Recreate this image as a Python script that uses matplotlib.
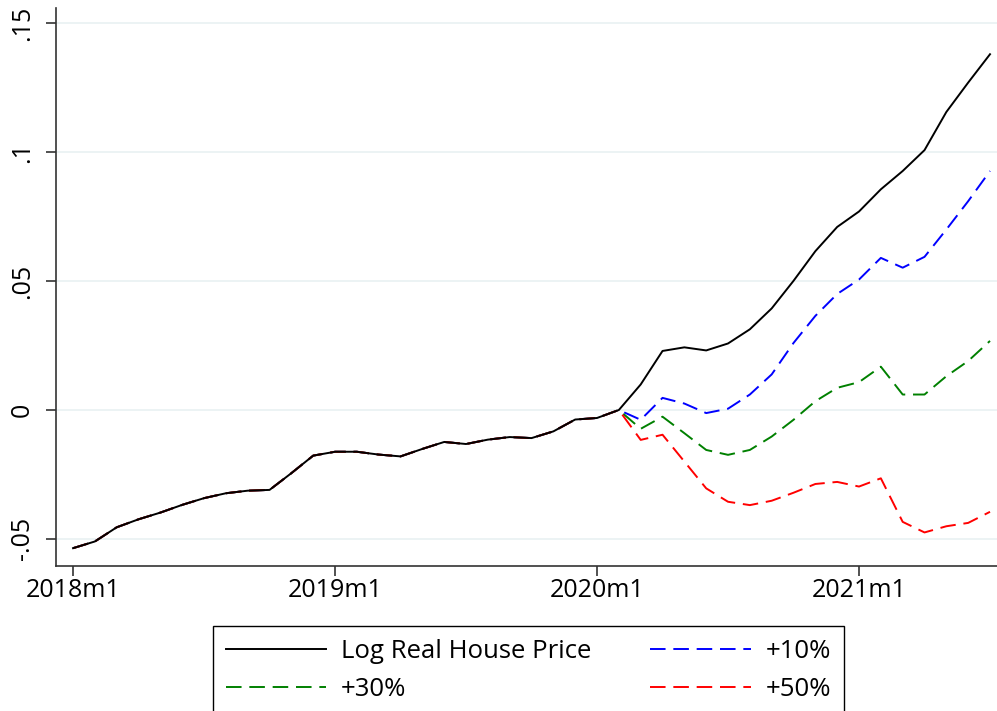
import numpy as np
import matplotlib
matplotlib.use("Agg")
import matplotlib.pyplot as plt

plt.rcParams['font.family'] = ['Open Sans', 'DejaVu Sans']

# months 2018m1 .. 2021m7 as index 0..42
tick_pos = [0, 12, 24, 36]
tick_labels = ["2018m1", "2019m1", "2020m1", "2021m1"]
ytick_pos = [-0.05, 0, 0.05, 0.1, 0.15]
ytick_labels = ["-.05", "0", ".05", ".1", ".15"]

# common history 2018m1 .. 2020m1
history = [-0.0536, -0.0510, -0.0455, -0.0424, -0.0398, -0.0368, -0.0342,
           -0.0323, -0.0313, -0.0310, -0.0245, -0.0177, -0.0162, -0.0162,
           -0.0173, -0.0180, -0.0151, -0.0124, -0.0132, -0.0115, -0.0105,
           -0.0109, -0.0083, -0.0037, -0.0031]

# 2020m2 .. 2021m7
price = [0.0, 0.0099, 0.0229, 0.0243, 0.0231, 0.0258, 0.0313, 0.0394,
         0.0501, 0.0616, 0.0710, 0.0770, 0.0856, 0.0927, 0.1008, 0.1156,
         0.1270, 0.1380]
plus10 = [0.0, -0.0038, 0.0047, 0.0025, -0.0012, 0.0005, 0.0060, 0.0138,
          0.0260, 0.0365, 0.0450, 0.0506, 0.0590, 0.0552, 0.0594, 0.0700,
          0.0810, 0.0927]
plus30 = [0.0, -0.0073, -0.0026, -0.0090, -0.0155, -0.0174, -0.0155,
          -0.0103, -0.0038, 0.0034, 0.0086, 0.0108, 0.0168, 0.0060, 0.0060,
          0.0131, 0.0190, 0.0268]
plus50 = [0.0, -0.0116, -0.0096, -0.0200, -0.0304, -0.0356, -0.0369,
          -0.0352, -0.0321, -0.0287, -0.0279, -0.0297, -0.0265, -0.0434,
          -0.0475, -0.0451, -0.0438, -0.0395]

fig = plt.figure(figsize=(9.97, 7.11), dpi=100)
ax = fig.add_axes([0.0562, 0.204, 0.9438, 0.785])

x = np.arange(len(history) + len(price))

for yv in ytick_pos:
    ax.axhline(yv, color='#eaf2f3', lw=1.3, zorder=0)

dash = [8, 4]
l10, = ax.plot(x, history + plus10, color='blue', lw=1.4, dashes=dash, label='+10%')
l30, = ax.plot(x, history + plus30, color='green', lw=1.4, dashes=dash, label='+30%')
l50, = ax.plot(x, history + plus50, color='red', lw=1.4, dashes=dash, label='+50%')
lp, = ax.plot(x, history + price, color='black', lw=1.4, label='Log Real House Price')

ax.set_xlim(-0.78, 42.32)
ax.set_ylim(-0.0605, 0.156)
ax.set_xticks(tick_pos)
ax.set_xticklabels(tick_labels, fontsize=18)
ax.set_yticks(ytick_pos)
ax.set_yticklabels(ytick_labels, fontsize=18, rotation=90, va='center')
ax.tick_params(axis='both', length=7, width=1.2, color='#333333', direction='out')
ax.tick_params(axis='y', pad=8)
ax.tick_params(axis='x', pad=2)

for s in ['top', 'right']:
    ax.spines[s].set_visible(False)
for s in ['left', 'bottom']:
    ax.spines[s].set_linewidth(1.2)
    ax.spines[s].set_color('#333333')

leg = fig.legend([lp, l30, l10, l50],
                 ['Log Real House Price', '+30%', '+10%', '+50%'],
                 ncol=2, loc='upper left', bbox_to_anchor=(213 / 997, 1 - 626 / 711),
                 fontsize=18.5, handlelength=3.9, fancybox=False, framealpha=1,
                 edgecolor='black', borderaxespad=0, columnspacing=2.3,
                 labelspacing=0.53, handletextpad=0.58, borderpad=0.5)
leg.get_frame().set_linewidth(1.0)

fig.savefig('out.png', dpi=100)
